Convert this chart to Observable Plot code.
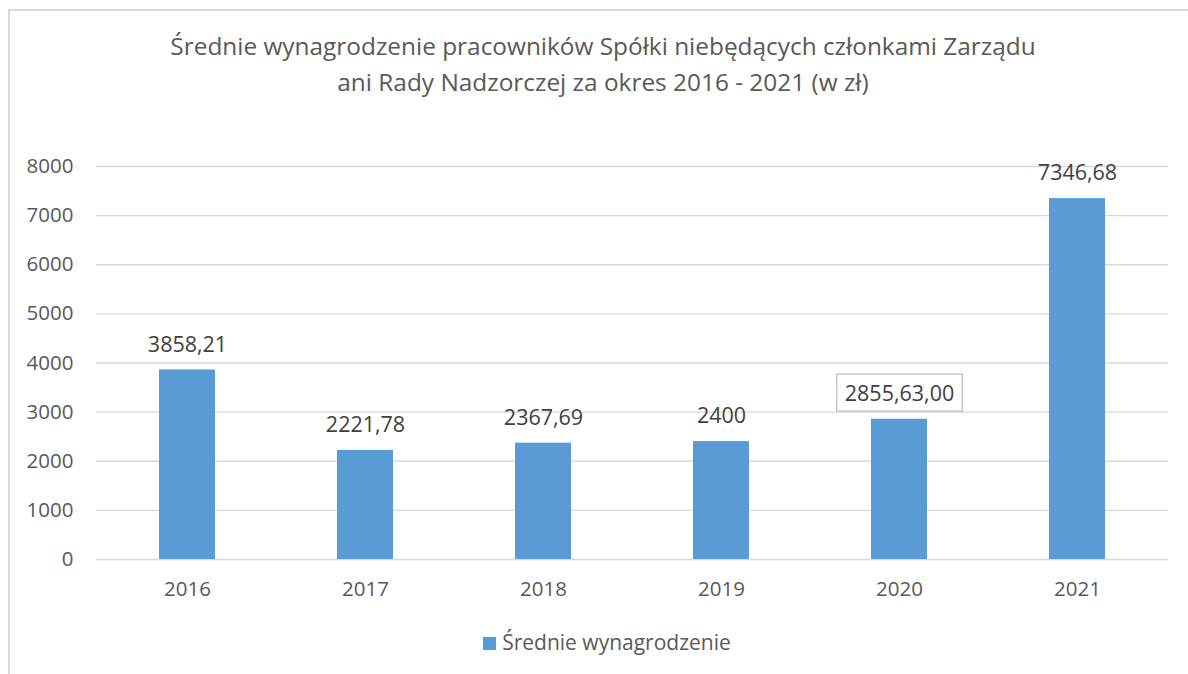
<!DOCTYPE html>
<html><head><meta charset="utf-8">
<script src="https://cdn.jsdelivr.net/npm/d3@7"></script>
<script src="https://cdn.jsdelivr.net/npm/@observablehq/plot@0.6"></script>
<style>
html,body{margin:0;padding:0;background:#fff;}
body{width:1188px;height:674px;overflow:hidden;position:relative;font-family:"Open Sans",sans-serif;color:#595959;}
#frame{position:absolute;left:8px;top:9px;width:1200px;height:700px;border:2px solid #d9d9d9;box-sizing:border-box;}
#title{position:absolute;left:0;width:1206px;top:28px;text-align:center;font-size:24.4px;line-height:36px;color:#595959;}
#chart{position:absolute;left:0;top:120px;}
#legend{position:absolute;left:0;width:1214px;top:627px;text-align:center;font-size:21px;line-height:30px;color:#595959;white-space:nowrap;}
#legend .sw{display:inline-block;width:13px;height:13px;background:#5B9BD5;margin-right:6px;vertical-align:0px;}
</style></head>
<body>
<div id="frame"></div>
<div id="title">Średnie wynagrodzenie pracowników Spółki niebędących członkami Zarządu<br>ani Rady Nadzorczej za okres 2016 - 2021 (w zł)</div>
<div id="chart"></div>
<div id="legend"><span class="sw"></span>Średnie wynagrodzenie</div>
<script>
const years = ["2016","2017","2018","2019","2020","2021"];
const values = [3858.21, 2221.78, 2367.69, 2400, 2855.63, 7346.68];
const labels = ["3858,21","2221,78","2367,69","2400","2855,63,00","7346,68"];
const yTicks = [0,1000,2000,3000,4000,5000,6000,7000,8000];
const boxedLabel = "2855,63,00";

const data = years.map((y,i)=>({year:y, value:values[i], label:labels[i]}));

const plot = Plot.plot({
  width: 1188,
  height: 490,
  marginTop: 46,
  marginBottom: 51,
  marginLeft: 96,
  marginRight: 20,
  style: {fontFamily: "'Open Sans', sans-serif", fontSize: "20px", color: "#595959", background: "transparent"},
  x: {domain: years, label: null, paddingInner: 0.686, paddingOuter: 0.343},
  y: {domain: [0, 8000], label: null},
  marks: [
    Plot.ruleY(yTicks, {stroke: "#d9d9d9", strokeWidth: 1.3}),
    Plot.barY(data, {x: "year", y: "value", fill: "#5B9BD5"}),
    Plot.axisY({ticks: yTicks, tickFormat: d => String(d), tickSize: 0, tickPadding: 23, fontSize: 20.5, fill: "#595959", label: null}),
    Plot.axisX({tickSize: 0, tickPadding: 22, fontSize: 20.5, fill: "#595959", label: null}),
    Plot.text(data, {x: "year", y: "value", text: "label", dy: -25, fill: "#404040", fontSize: 21.5, className: "vlabel"})
  ]
});
document.getElementById("chart").appendChild(plot);

// draw a box around the boxed data label
d3.select(plot).selectAll(".vlabel text").each(function(){
  if (this.textContent === boxedLabel) {
    const bb = this.getBBox();
    d3.select(this.parentNode).insert("rect", () => this)
      .attr("x", bb.x - 8).attr("y", bb.y - 4)
      .attr("width", bb.width + 16).attr("height", bb.height + 8)
      .attr("fill", "#fff").attr("stroke", "#bfbfbf").attr("stroke-width", 1.3)
      .attr("transform", this.getAttribute("transform"));
  }
});
</script>
</body></html>
